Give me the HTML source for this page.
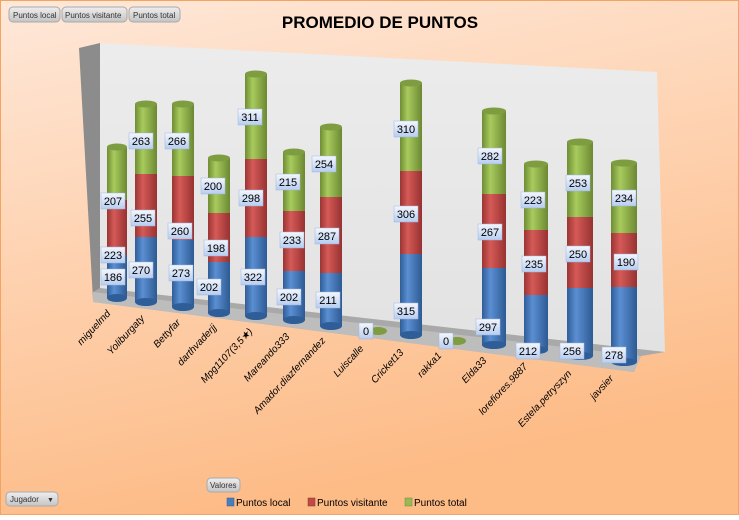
<!DOCTYPE html>
<html><head><meta charset="utf-8"><style>
html,body{margin:0;padding:0;}
body{width:739px;height:515px;overflow:hidden;font-family:"Liberation Sans",sans-serif;}
</style></head><body>
<svg width="739" height="515" xmlns="http://www.w3.org/2000/svg" font-family="Liberation Sans, sans-serif">
<defs>
<linearGradient id="bg" x1="0" y1="0" x2="0.3" y2="1"><stop offset="0" stop-color="#fee8d9"/><stop offset="1" stop-color="#fdbb86"/></linearGradient>
<linearGradient id="wall" x1="0" y1="0" x2="0" y2="1"><stop offset="0" stop-color="#ececec"/><stop offset="1" stop-color="#e2e2e2"/></linearGradient>
<linearGradient id="gb" x1="0" y1="0" x2="1" y2="0"><stop offset="0" stop-color="#2f5d97"/><stop offset="0.35" stop-color="#5b8fd3"/><stop offset="1" stop-color="#2d5a93"/></linearGradient>
<linearGradient id="gr" x1="0" y1="0" x2="1" y2="0"><stop offset="0" stop-color="#9a3533"/><stop offset="0.35" stop-color="#d55a57"/><stop offset="1" stop-color="#973231"/></linearGradient>
<linearGradient id="gg" x1="0" y1="0" x2="1" y2="0"><stop offset="0" stop-color="#6f8c34"/><stop offset="0.35" stop-color="#a8cb5d"/><stop offset="1" stop-color="#6c8832"/></linearGradient>
<linearGradient id="lb" x1="0" y1="0" x2="0" y2="1"><stop offset="0" stop-color="#f4f7fd"/><stop offset="1" stop-color="#b7cdf0"/></linearGradient>
<linearGradient id="btn" x1="0" y1="0" x2="0" y2="1"><stop offset="0" stop-color="#eeeeee"/><stop offset="1" stop-color="#c4c4c4"/></linearGradient>
</defs>
<rect x="0.5" y="0.5" width="738" height="514" fill="url(#bg)" stroke="#f4a460"/>
<text x="380" y="28" text-anchor="middle" font-size="17" font-weight="bold">PROMEDIO DE PUNTOS</text>
<!-- walls -->
<polygon points="79,48 100,43 100,290 93,300" fill="#8c8c8c"/>
<polygon points="100,43 657,72 665,352 100,290" fill="url(#wall)"/>
<polygon points="93,292 100,288 665,352 641,356 634,372 93,302" fill="#a9a9a9"/>
<polygon points="93,292 641,356 634,372 93,302" fill="#bdbdbd"/>
<g id="cols">
<!-- col template: blue rb->bottom, red gr->rb, green top->gr -->
<g><rect x="107" y="255" width="20" height="43" fill="url(#gb)"/><ellipse cx="117" cy="298" rx="10" ry="4" fill="#2f5d97"/><rect x="107" y="200" width="20" height="55" fill="url(#gr)"/><rect x="107" y="147" width="20" height="53" fill="url(#gg)"/><ellipse cx="117" cy="147" rx="10" ry="3.5" fill="#7e9c40"/></g>
<g><rect x="135" y="237" width="22" height="65" fill="url(#gb)"/><ellipse cx="146" cy="302" rx="11" ry="4" fill="#2f5d97"/><rect x="135" y="174" width="22" height="63" fill="url(#gr)"/><rect x="135" y="104" width="22" height="70" fill="url(#gg)"/><ellipse cx="146" cy="104" rx="11" ry="3.5" fill="#7e9c40"/></g>
<g><rect x="172" y="240" width="22" height="67" fill="url(#gb)"/><ellipse cx="183" cy="307" rx="11" ry="4" fill="#2f5d97"/><rect x="172" y="176" width="22" height="64" fill="url(#gr)"/><rect x="172" y="104" width="22" height="72" fill="url(#gg)"/><ellipse cx="183" cy="104" rx="11" ry="3.5" fill="#7e9c40"/></g>
<g><rect x="208" y="262" width="22" height="51" fill="url(#gb)"/><ellipse cx="219" cy="313" rx="11" ry="4" fill="#2f5d97"/><rect x="208" y="213" width="22" height="49" fill="url(#gr)"/><rect x="208" y="158" width="22" height="55" fill="url(#gg)"/><ellipse cx="219" cy="158" rx="11" ry="3.5" fill="#7e9c40"/></g>
<g><rect x="245" y="237" width="22" height="79" fill="url(#gb)"/><ellipse cx="256" cy="316" rx="11" ry="4" fill="#2f5d97"/><rect x="245" y="159" width="22" height="78" fill="url(#gr)"/><rect x="245" y="74" width="22" height="85" fill="url(#gg)"/><ellipse cx="256" cy="74" rx="11" ry="3.5" fill="#7e9c40"/></g>
<g><rect x="283" y="271" width="22" height="49" fill="url(#gb)"/><ellipse cx="294" cy="320" rx="11" ry="4" fill="#2f5d97"/><rect x="283" y="211" width="22" height="60" fill="url(#gr)"/><rect x="283" y="152" width="22" height="59" fill="url(#gg)"/><ellipse cx="294" cy="152" rx="11" ry="3.5" fill="#7e9c40"/></g>
<g><rect x="320" y="273" width="22" height="53" fill="url(#gb)"/><ellipse cx="331" cy="326" rx="11" ry="4" fill="#2f5d97"/><rect x="320" y="197" width="22" height="76" fill="url(#gr)"/><rect x="320" y="127" width="22" height="70" fill="url(#gg)"/><ellipse cx="331" cy="127" rx="11" ry="3.5" fill="#7e9c40"/></g>
<ellipse cx="378" cy="331" rx="9" ry="4" fill="#7e9c40"/>
<g><rect x="400" y="254" width="22" height="81" fill="url(#gb)"/><ellipse cx="411" cy="335" rx="11" ry="4" fill="#2f5d97"/><rect x="400" y="171" width="22" height="83" fill="url(#gr)"/><rect x="400" y="83" width="22" height="88" fill="url(#gg)"/><ellipse cx="411" cy="83" rx="11" ry="3.5" fill="#7e9c40"/></g>
<ellipse cx="457" cy="341" rx="9" ry="4" fill="#7e9c40"/>
<g><rect x="482" y="268" width="24" height="77" fill="url(#gb)"/><ellipse cx="494" cy="345" rx="12" ry="4" fill="#2f5d97"/><rect x="482" y="194" width="24" height="74" fill="url(#gr)"/><rect x="482" y="111" width="24" height="83" fill="url(#gg)"/><ellipse cx="494" cy="111" rx="12" ry="3.5" fill="#7e9c40"/></g>
<g><rect x="524" y="295" width="24" height="55" fill="url(#gb)"/><ellipse cx="536" cy="350" rx="12" ry="4" fill="#2f5d97"/><rect x="524" y="230" width="24" height="65" fill="url(#gr)"/><rect x="524" y="164" width="24" height="66" fill="url(#gg)"/><ellipse cx="536" cy="164" rx="12" ry="3.5" fill="#7e9c40"/></g>
<g><rect x="567" y="288" width="26" height="68" fill="url(#gb)"/><ellipse cx="580" cy="356" rx="13" ry="4" fill="#2f5d97"/><rect x="567" y="217" width="26" height="71" fill="url(#gr)"/><rect x="567" y="142" width="26" height="75" fill="url(#gg)"/><ellipse cx="580" cy="142" rx="13" ry="3.5" fill="#7e9c40"/></g>
<g><rect x="611" y="287" width="26" height="75" fill="url(#gb)"/><ellipse cx="624" cy="362" rx="13" ry="4" fill="#2f5d97"/><rect x="611" y="233" width="26" height="54" fill="url(#gr)"/><rect x="611" y="163" width="26" height="70" fill="url(#gg)"/><ellipse cx="624" cy="163" rx="13" ry="3.5" fill="#7e9c40"/></g>
</g>
<g font-size="11" text-anchor="middle">
<g fill="url(#lb)" stroke="#9fb6dc" stroke-width="0.5">
<rect x="101" y="193" width="24" height="16"/><rect x="101" y="247" width="24" height="16"/><rect x="101" y="269" width="24" height="16"/>
<rect x="129" y="133" width="24" height="16"/><rect x="131" y="210" width="24" height="16"/><rect x="129" y="262" width="24" height="16"/>
<rect x="165" y="133" width="24" height="16"/><rect x="168" y="223" width="24" height="16"/><rect x="169" y="265" width="24" height="16"/>
<rect x="201" y="178" width="24" height="16"/><rect x="204" y="240" width="24" height="16"/><rect x="197" y="279" width="24" height="16"/>
<rect x="238" y="109" width="24" height="16"/><rect x="239" y="190" width="24" height="16"/><rect x="241" y="269" width="24" height="16"/>
<rect x="276" y="174" width="24" height="16"/><rect x="280" y="232" width="24" height="16"/><rect x="277" y="289" width="24" height="16"/>
<rect x="312" y="156" width="24" height="16"/><rect x="315" y="228" width="24" height="16"/><rect x="316" y="292" width="24" height="16"/>
<rect x="359" y="323" width="14" height="16"/>
<rect x="394" y="121" width="24" height="16"/><rect x="394" y="206" width="24" height="16"/><rect x="394" y="303" width="24" height="16"/>
<rect x="439" y="333" width="14" height="16"/>
<rect x="478" y="148" width="24" height="16"/><rect x="478" y="224" width="24" height="16"/><rect x="476" y="319" width="24" height="16"/>
<rect x="521" y="192" width="24" height="16"/><rect x="522" y="256" width="24" height="16"/><rect x="516" y="343" width="24" height="16"/>
<rect x="566" y="175" width="24" height="16"/><rect x="566" y="246" width="24" height="16"/><rect x="560" y="343" width="24" height="16"/>
<rect x="612" y="190" width="24" height="16"/><rect x="614" y="254" width="24" height="16"/><rect x="602" y="347" width="24" height="16"/>
</g>
<g fill="#000">
<text x="113" y="205">207</text><text x="113" y="259">223</text><text x="113" y="281">186</text>
<text x="141" y="145">263</text><text x="143" y="222">255</text><text x="141" y="274">270</text>
<text x="177" y="145">266</text><text x="180" y="235">260</text><text x="181" y="277">273</text>
<text x="213" y="190">200</text><text x="216" y="252">198</text><text x="209" y="291">202</text>
<text x="250" y="121">311</text><text x="251" y="202">298</text><text x="253" y="281">322</text>
<text x="288" y="186">215</text><text x="292" y="244">233</text><text x="289" y="301">202</text>
<text x="324" y="168">254</text><text x="327" y="240">287</text><text x="328" y="304">211</text>
<text x="366" y="335">0</text>
<text x="406" y="133">310</text><text x="406" y="218">306</text><text x="406" y="315">315</text>
<text x="446" y="345">0</text>
<text x="490" y="160">282</text><text x="490" y="236">267</text><text x="488" y="331">297</text>
<text x="533" y="204">223</text><text x="534" y="268">235</text><text x="528" y="355">212</text>
<text x="578" y="187">253</text><text x="578" y="258">250</text><text x="572" y="355">256</text>
<text x="624" y="202">234</text><text x="626" y="266">190</text><text x="614" y="359">278</text>
</g></g>
<g font-size="10" font-style="italic" text-anchor="end" fill="#000">
<text transform="translate(111,314) rotate(-47)">miguelmd</text>
<text transform="translate(145,319) rotate(-47)">Yolibur­gaty</text>
<text transform="translate(181,323) rotate(-47)">Bettyfar</text>
<text transform="translate(217,328) rotate(-47)">darthvaderjj</text>
<text transform="translate(253,332) rotate(-47)">Mpg1107(3,5★)</text>
<text transform="translate(290,337) rotate(-47)">Mareando333</text>
<text transform="translate(326,341) rotate(-47)">Amador.diazfernandez</text>
<text transform="translate(364,349) rotate(-47)">Luiscalle</text>
<text transform="translate(404,353) rotate(-47)">Cricket13</text>
<text transform="translate(442,356) rotate(-47)">rakka1</text>
<text transform="translate(487,361) rotate(-47)">Elda33</text>
<text transform="translate(528,367) rotate(-47)">lorefiores.9887</text>
<text transform="translate(572,374) rotate(-47)">Estela.petryszyn</text>
<text transform="translate(614,379) rotate(-47)">javsier</text>
</g>
<g font-size="8" fill="#333">
<rect x="9" y="7" width="51" height="15" rx="4" fill="url(#btn)" stroke="#aaa"/><text x="13" y="18">Puntos local</text>
<rect x="62" y="7" width="65" height="15" rx="4" fill="url(#btn)" stroke="#aaa"/><text x="65" y="18">Puntos visitante</text>
<rect x="129" y="7" width="51" height="15" rx="4" fill="url(#btn)" stroke="#aaa"/><text x="133" y="18">Puntos total</text>
<rect x="207" y="478" width="33" height="14" rx="4" fill="url(#btn)" stroke="#aaa"/><text x="210" y="488">Valores</text>
<rect x="6" y="492" width="52" height="14" rx="4" fill="url(#btn)" stroke="#aaa"/><text x="10" y="502">Jugador</text><text x="47" y="502" font-size="7">▼</text>
</g>
<g font-size="10" fill="#000">
<rect x="227" y="498" width="7" height="8" fill="#4a7ebb" stroke="#2f5d97" stroke-width="0.5"/><text x="236" y="506">Puntos local</text>
<rect x="308" y="498" width="7" height="8" fill="#be4b48" stroke="#8c3030" stroke-width="0.5"/><text x="317" y="506">Puntos visitante</text>
<rect x="405" y="498" width="7" height="8" fill="#98b954" stroke="#6f8c34" stroke-width="0.5"/><text x="414" y="506">Puntos total</text>
</g>
</svg>
</body></html>
